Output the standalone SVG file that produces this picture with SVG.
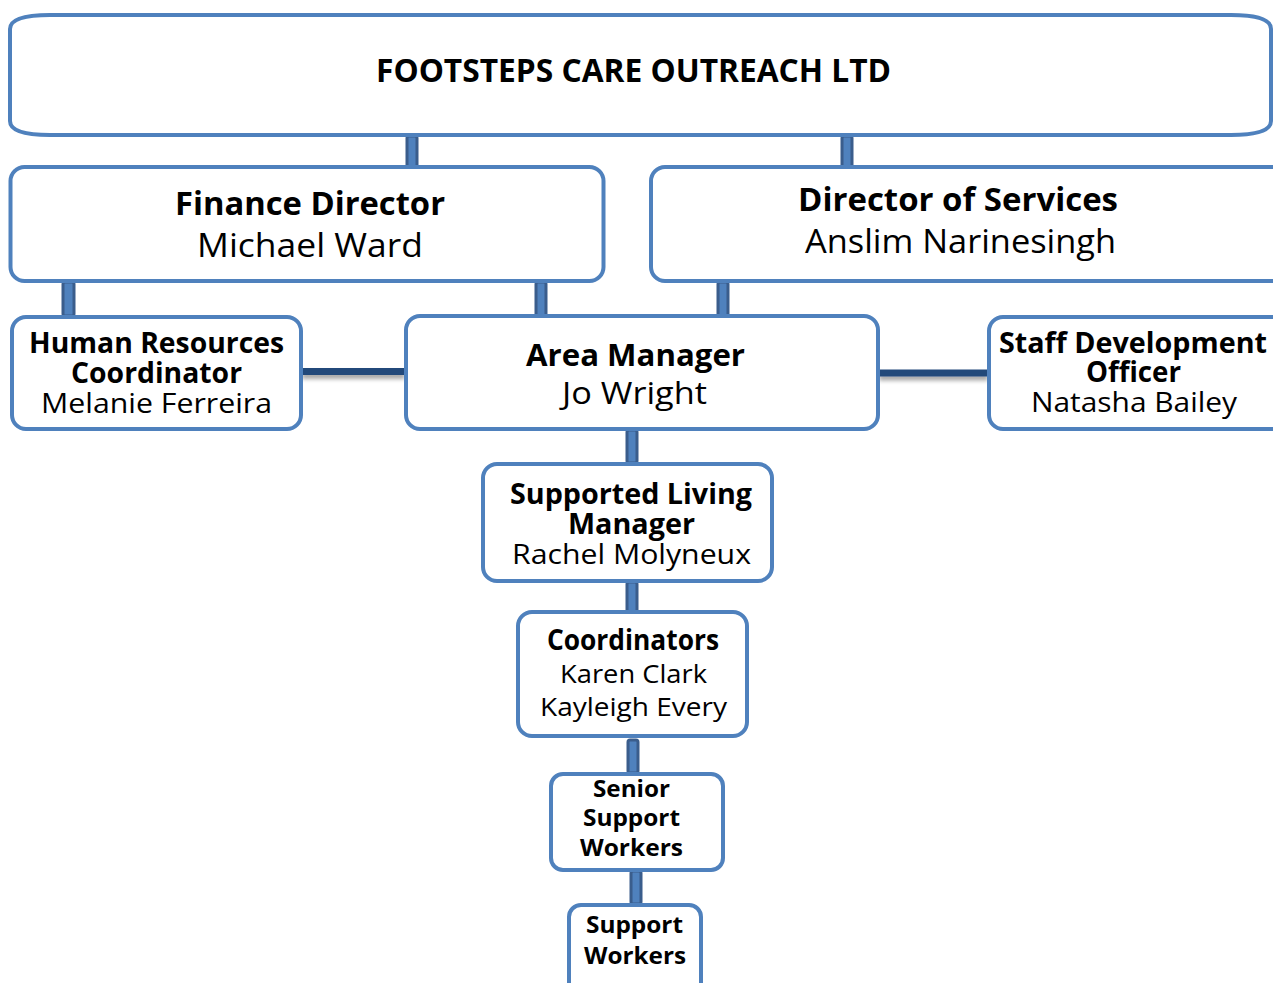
<svg xmlns="http://www.w3.org/2000/svg" width="1273" height="983" viewBox="0 0 1273 983">
  <defs>
    <style>
      .box { fill: #ffffff; stroke: #4f81bd; stroke-width: 4; }
      .bar { fill: #4f81bd; stroke: #3a5d8c; stroke-width: 3; }
      .link { fill: #24487a; filter: url(#shadow); }
      text { font-family: "Open Sans", "Noto Sans", "Liberation Sans", sans-serif; fill: #000000; text-anchor: middle; }
      .b { font-weight: 700; }
      .r { font-weight: 400; }
    </style>
    <filter id="shadow" filterUnits="userSpaceOnUse" x="0" y="300" width="1273" height="120">
      <feGaussianBlur in="SourceAlpha" stdDeviation="2"/>
      <feOffset dx="0" dy="4" result="blur"/>
      <feComponentTransfer><feFuncA type="linear" slope="0.35"/></feComponentTransfer>
      <feMerge><feMergeNode/><feMergeNode in="SourceGraphic"/></feMerge>
    </filter>
  </defs>
  <rect width="1273" height="983" fill="#ffffff"/>

  <!-- connectors -->
  <g id="connectors">
    <rect class="bar" x="407" y="136" width="10" height="32" rx="2"/>
    <rect class="bar" x="842" y="136" width="10" height="32" rx="2"/>
    <rect class="bar" x="63" y="282" width="11" height="34" rx="2"/>
    <rect class="bar" x="536" y="282" width="10" height="34" rx="2"/>
    <rect class="bar" x="718" y="282" width="10" height="34" rx="2"/>
    <rect class="bar" x="627" y="430" width="10" height="33" rx="2"/>
    <rect class="bar" x="627" y="582" width="10" height="30" rx="2"/>
    <rect class="bar" x="628" y="740" width="10" height="33" rx="2"/>
    <rect class="bar" x="631" y="871" width="10" height="33" rx="2"/>
    <rect class="link" x="302" y="368" width="103" height="7"/>
    <rect class="link" x="879" y="369.5" width="109" height="7"/>
  </g>

  <g id="company">
    <path class="box" d="M50,15 H1231 Q1271,15 1271,29 V121 Q1271,135 1231,135 H50 Q10,135 10,121 V29 Q10,15 50,15 Z"/>
    <text class="b" x="633.5" y="82" font-size="32" textLength="515" lengthAdjust="spacingAndGlyphs">FOOTSTEPS CARE OUTREACH LTD</text>
  </g>

  <g id="finance-director">
    <rect class="box" x="10.5" y="167" width="593" height="114" rx="14"/>
    <text class="b" x="310" y="215" font-size="33" textLength="270" lengthAdjust="spacingAndGlyphs">Finance Director</text>
    <text class="r" x="310" y="257" font-size="33" textLength="226" lengthAdjust="spacingAndGlyphs">Michael Ward</text>
  </g>

  <g id="director-of-services">
    <rect class="box" x="651" y="167" width="640" height="114" rx="14"/>
    <text class="b" x="958" y="211" font-size="33" textLength="320" lengthAdjust="spacingAndGlyphs">Director of Services</text>
    <text class="r" x="960.5" y="253" font-size="33" textLength="311" lengthAdjust="spacingAndGlyphs">Anslim Narinesingh</text>
  </g>

  <g id="hr-coordinator">
    <rect class="box" x="12" y="317" width="289" height="112" rx="14"/>
    <text class="b" x="156.5" y="353" font-size="28" textLength="255" lengthAdjust="spacingAndGlyphs">Human Resources</text>
    <text class="b" x="156.5" y="383" font-size="28" textLength="171" lengthAdjust="spacingAndGlyphs">Coordinator</text>
    <text class="r" x="156.5" y="413" font-size="28" textLength="231" lengthAdjust="spacingAndGlyphs">Melanie Ferreira</text>
  </g>

  <g id="area-manager">
    <rect class="box" x="406" y="316" width="472" height="113" rx="14"/>
    <text class="b" x="635.5" y="366" font-size="30" textLength="219" lengthAdjust="spacingAndGlyphs">Area Manager</text>
    <text class="r" x="634.5" y="404" font-size="31" textLength="145" lengthAdjust="spacingAndGlyphs">Jo Wright</text>
  </g>

  <g id="staff-development-officer">
    <rect class="box" x="989" y="317" width="302" height="112" rx="14"/>
    <text class="b" x="1133" y="353" font-size="28" textLength="268" lengthAdjust="spacingAndGlyphs">Staff Development</text>
    <text class="b" x="1133.5" y="382" font-size="28" textLength="95" lengthAdjust="spacingAndGlyphs">Officer</text>
    <text class="r" x="1134" y="412" font-size="28" textLength="206" lengthAdjust="spacingAndGlyphs">Natasha Bailey</text>
  </g>

  <g id="supported-living-manager">
    <rect class="box" x="483" y="464" width="289" height="117" rx="14"/>
    <text class="b" x="631" y="504" font-size="28" textLength="242" lengthAdjust="spacingAndGlyphs">Supported Living</text>
    <text class="b" x="631.5" y="534" font-size="28" textLength="127" lengthAdjust="spacingAndGlyphs">Manager</text>
    <text class="r" x="631.5" y="564" font-size="28" textLength="239" lengthAdjust="spacingAndGlyphs">Rachel Molyneux</text>
  </g>

  <g id="coordinators">
    <rect class="box" x="518" y="612" width="229" height="124" rx="14"/>
    <text class="b" x="633" y="650" font-size="28" textLength="172" lengthAdjust="spacingAndGlyphs">Coordinators</text>
    <text class="r" x="633.5" y="683" font-size="26" textLength="147" lengthAdjust="spacingAndGlyphs">Karen Clark</text>
    <text class="r" x="633.5" y="716" font-size="26" textLength="187" lengthAdjust="spacingAndGlyphs">Kayleigh Every</text>
  </g>

  <g id="senior-support-workers">
    <rect class="box" x="551" y="774" width="172" height="96" rx="12"/>
    <text class="b" x="631.5" y="797" font-size="24" textLength="77" lengthAdjust="spacingAndGlyphs">Senior</text>
    <text class="b" x="631.5" y="826" font-size="24" textLength="97" lengthAdjust="spacingAndGlyphs">Support</text>
    <text class="b" x="631.5" y="856" font-size="24" textLength="103" lengthAdjust="spacingAndGlyphs">Workers</text>
  </g>

  <g id="support-workers">
    <rect class="box" x="569" y="905" width="132" height="100" rx="12"/>
    <text class="b" x="634.5" y="933" font-size="24" textLength="97" lengthAdjust="spacingAndGlyphs">Support</text>
    <text class="b" x="635" y="964" font-size="24" textLength="102" lengthAdjust="spacingAndGlyphs">Workers</text>
  </g>
</svg>
